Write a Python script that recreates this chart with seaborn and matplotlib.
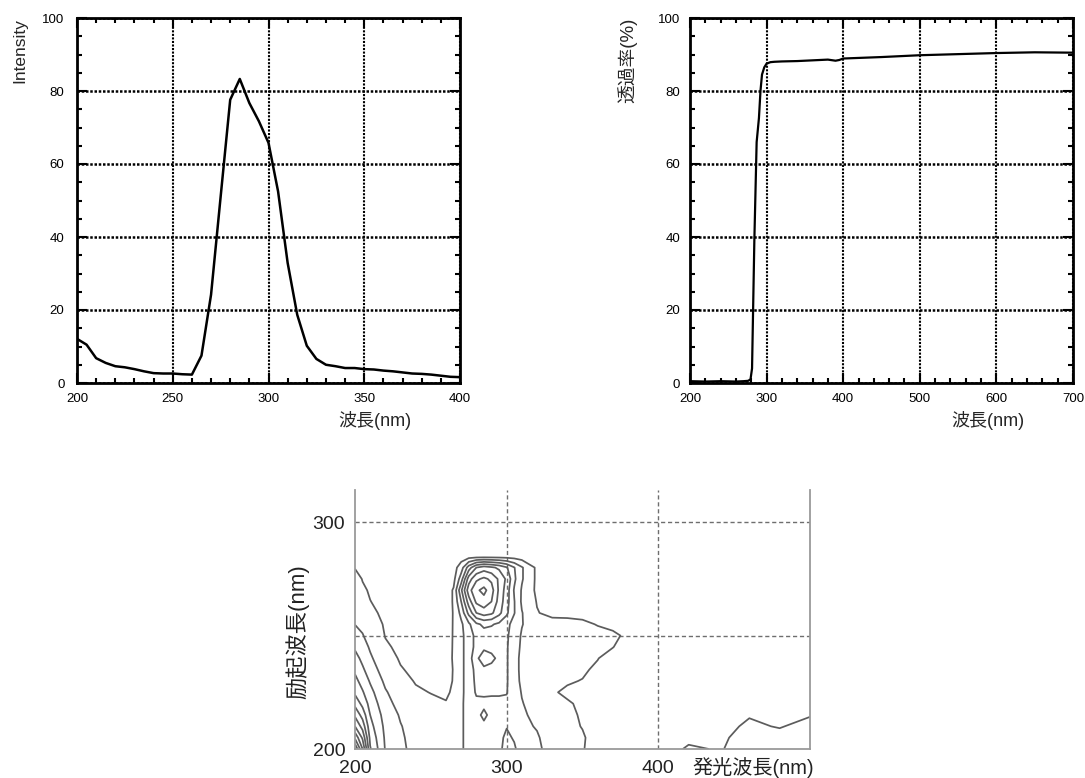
import numpy as np
import pandas as pd
import matplotlib
matplotlib.use("Agg")
import matplotlib.pyplot as plt
from matplotlib.ticker import MultipleLocator
import seaborn as sns

# ---------------------------------------------------------------- data
# Fluorescence emission spectrum
em_wavelength = [200, 205, 210, 215, 220, 225, 230, 235, 240, 245, 250, 255, 260,
                 265, 270, 275, 280, 285, 290, 295, 300, 305, 310, 315, 320, 325,
                 330, 335, 340, 345, 350, 355, 360, 365, 370, 375, 380, 385, 390,
                 395, 400]
em_intensity = [12.1, 10.5, 6.8, 5.5, 4.6, 4.3, 3.8, 3.2, 2.7, 2.6, 2.6, 2.4, 2.3,
                7.5, 24.2, 51.0, 77.6, 83.3, 76.7, 71.7, 65.8, 52.5, 32.9, 18.7, 10.2,
                6.6, 5.0, 4.6, 4.1, 4.1, 3.8, 3.7, 3.4, 3.2, 2.9, 2.6, 2.5, 2.3, 2.0,
                1.7, 1.6]

# Transmittance spectrum
tr_wavelength = [200, 220, 240, 260, 270, 276, 279, 281, 284, 287, 290, 292, 294,
                 297, 300, 305, 310, 320, 340, 360, 380, 390, 395, 400, 450, 500,
                 550, 600, 650, 700]
tr_percent = [0.5, 0.4, 0.5, 0.4, 0.5, 0.6, 1.0, 4.0, 39.0, 66.0, 72.6, 80.0, 84.5,
              86.5, 87.5, 87.9, 88.0, 88.1, 88.2, 88.4, 88.6, 88.3, 88.5, 88.9, 89.3,
              89.8, 90.1, 90.4, 90.6, 90.5]

# Excitation-emission map (rows: excitation, columns: emission)
eem_emission = [200, 205, 210, 220, 230, 240, 250, 260, 265, 270, 275, 280, 285, 290,
                295, 300, 305, 310, 320, 330, 340, 350, 360, 370, 380, 400, 420, 440,
                460, 480, 500]
eem_excitation = [200, 205, 210, 215, 220, 225, 230, 235, 240, 245, 250, 255, 260,
                  265, 270, 275, 280, 285, 290, 300, 315]
eem_intensity = [
    [12.0, 9.0, 5.1, 2.93, 2.1, 1.85, 1.55, 1.5, 1.6, 1.8, 2.5, 2.7, 2.7, 2.7, 2.75, 3.4, 3.15, 2.5, 2.35, 1.3, 1.2, 1.03, 0.8, 0.7, 0.7, 0.75, 1.06, 0.97, 1.15, 1.2, 1.25],
    [9.8, 7.8, 4.75, 2.85, 2.1, 1.75, 1.5, 1.4, 1.6, 1.8, 2.5, 2.7, 2.7, 2.7, 2.75, 3.2, 2.9, 2.4, 2.15, 1.3, 1.2, 1.05, 0.8, 0.7, 0.7, 0.7, 0.9, 0.95, 1.1, 1.1, 1.15],
    [8.0, 6.6, 4.35, 2.75, 2.05, 1.6, 1.4, 1.3, 1.55, 1.8, 2.5, 2.75, 2.85, 2.75, 2.75, 2.95, 2.6, 2.3, 1.9, 1.25, 1.12, 0.98, 0.75, 0.65, 0.65, 0.65, 0.8, 0.9, 1.05, 0.98, 1.1],
    [6.8, 5.6, 4.0, 2.6, 1.9, 1.45, 1.3, 1.15, 1.5, 1.8, 2.5, 2.8, 3.15, 2.8, 2.75, 2.8, 2.5, 2.15, 1.75, 1.2, 1.1, 0.95, 0.7, 0.6, 0.6, 0.6, 0.7, 0.85, 0.98, 0.95, 0.98],
    [5.7, 4.7, 3.65, 2.35, 1.65, 1.3, 1.15, 1.02, 1.4, 1.8, 2.5, 2.8, 2.85, 2.8, 2.8, 2.8, 2.5, 2.05, 1.6, 1.15, 1.05, 0.92, 0.7, 0.6, 0.55, 0.55, 0.5, 0.5, 0.55, 0.55, 0.55],
    [4.8, 4.1, 3.3, 2.1, 1.45, 1.1, 0.98, 0.95, 1.05, 1.75, 2.5, 3.1, 3.1, 3.1, 3.1, 3.05, 2.4, 1.95, 1.25, 1.05, 0.92, 0.85, 0.7, 0.6, 0.55, 0.5, 0.5, 0.5, 0.55, 0.55, 0.55],
    [4.3, 3.6, 2.9, 1.8, 1.25, 0.95, 0.85, 0.9, 1.02, 1.75, 2.5, 3.2, 3.3, 3.3, 3.2, 3.1, 2.3, 1.85, 1.3, 1.15, 1.05, 0.98, 0.75, 0.6, 0.55, 0.5, 0.5, 0.5, 0.55, 0.55, 0.55],
    [3.8, 3.15, 2.5, 1.5, 1.05, 0.85, 0.75, 0.85, 1.02, 1.75, 2.5, 3.3, 3.8, 3.6, 3.3, 3.1, 2.3, 1.8, 1.4, 1.25, 1.12, 1.08, 0.9, 0.65, 0.55, 0.5, 0.5, 0.5, 0.55, 0.55, 0.55],
    [3.35, 2.75, 2.15, 1.3, 0.93, 0.78, 0.65, 0.8, 1.05, 1.75, 2.5, 3.8, 4.5, 4.3, 3.7, 3.1, 2.3, 1.8, 1.5, 1.35, 1.2, 1.1, 1.02, 0.75, 0.6, 0.5, 0.5, 0.5, 0.55, 0.55, 0.55],
    [2.85, 2.4, 1.88, 1.1, 0.85, 0.7, 0.6, 0.75, 1.05, 1.75, 2.5, 3.3, 3.8, 3.6, 3.3, 3.1, 2.4, 1.85, 1.5, 1.4, 1.3, 1.2, 1.1, 1.02, 0.7, 0.5, 0.5, 0.5, 0.55, 0.55, 0.55],
    [2.4, 2.05, 1.65, 0.97, 0.78, 0.6, 0.55, 0.7, 1.05, 1.75, 2.5, 3.3, 3.6, 3.5, 3.4, 3.15, 2.5, 1.9, 1.6, 1.45, 1.4, 1.35, 1.3, 1.15, 0.85, 0.5, 0.5, 0.5, 0.55, 0.55, 0.55],
    [1.98, 1.8, 1.45, 0.9, 0.7, 0.55, 0.5, 0.65, 1.05, 1.8, 2.8, 3.8, 4.2, 4.1, 3.8, 3.3, 2.6, 2.05, 1.4, 1.35, 1.3, 1.2, 0.95, 0.8, 0.6, 0.45, 0.5, 0.5, 0.55, 0.55, 0.55],
    [1.95, 1.6, 1.2, 0.8, 0.6, 0.5, 0.45, 0.6, 1.05, 2.3, 4.3, 6.0, 6.5, 6.2, 5.3, 4.2, 3.05, 2.05, 1.05, 0.75, 0.75, 0.7, 0.6, 0.55, 0.5, 0.4, 0.45, 0.45, 0.5, 0.5, 0.5],
    [1.85, 1.4, 1.02, 0.7, 0.5, 0.45, 0.42, 0.5, 1.1, 3.0, 5.5, 7.2, 7.6, 7.0, 5.6, 4.4, 3.05, 1.85, 0.95, 0.6, 0.55, 0.5, 0.5, 0.5, 0.45, 0.4, 0.45, 0.45, 0.5, 0.5, 0.5],
    [1.7, 1.15, 0.9, 0.6, 0.45, 0.4, 0.4, 0.5, 1.1, 3.8, 6.6, 7.8, 8.3, 7.4, 5.8, 4.5, 2.9, 1.9, 0.8, 0.5, 0.45, 0.45, 0.45, 0.45, 0.4, 0.4, 0.45, 0.45, 0.5, 0.5, 0.5],
    [1.4, 0.95, 0.75, 0.5, 0.4, 0.35, 0.35, 0.4, 0.7, 2.5, 5.5, 6.8, 7.2, 6.8, 5.8, 4.8, 3.2, 2.1, 0.8, 0.4, 0.4, 0.4, 0.4, 0.4, 0.4, 0.4, 0.4, 0.4, 0.45, 0.45, 0.45],
    [0.95, 0.75, 0.6, 0.45, 0.35, 0.35, 0.35, 0.4, 0.6, 1.5, 3.5, 5.0, 5.5, 5.2, 4.8, 4.1, 3.05, 2.1, 0.8, 0.5, 0.4, 0.4, 0.4, 0.4, 0.4, 0.4, 0.4, 0.4, 0.4, 0.4, 0.4],
    [0.8, 0.6, 0.5, 0.4, 0.35, 0.3, 0.3, 0.3, 0.4, 0.5, 0.5, 0.5, 0.5, 0.5, 0.5, 0.5, 0.5, 0.45, 0.4, 0.35, 0.3, 0.3, 0.3, 0.3, 0.3, 0.35, 0.35, 0.35, 0.35, 0.35, 0.35],
    [0.6, 0.5, 0.45, 0.35, 0.3, 0.3, 0.3, 0.3, 0.35, 0.45, 0.5, 0.5, 0.55, 0.55, 0.5, 0.5, 0.5, 0.45, 0.4, 0.35, 0.3, 0.3, 0.3, 0.3, 0.3, 0.3, 0.3, 0.3, 0.3, 0.3, 0.3],
    [0.4, 0.35, 0.35, 0.35, 0.35, 0.35, 0.35, 0.35, 0.35, 0.35, 0.35, 0.35, 0.35, 0.35, 0.35, 0.35, 0.35, 0.35, 0.35, 0.35, 0.35, 0.35, 0.35, 0.35, 0.35, 0.35, 0.35, 0.35, 0.35, 0.35, 0.35],
    [0.3] * 31,
]
eem_levels = [1, 2, 3, 4, 5, 6, 7, 8, 9, 10, 11]

# ---------------------------------------------------------------- style
sns.set_theme(style="ticks")
plt.rcParams["font.family"] = ["Liberation Sans", "Noto Sans CJK JP"]
plt.rcParams["axes.linewidth"] = 2.0

W, H = 1085, 778
fig = plt.figure(figsize=(W / 100, H / 100), dpi=100)
fig.patch.set_facecolor("white")


def px_axes(left, top, right, bottom):
    return fig.add_axes([left / W, 1 - bottom / H, (right - left) / W, (bottom - top) / H])


def style_spectrum(ax, xmaj, xmin, ypad):
    ax.set_ylim(0, 100)
    ax.xaxis.set_major_locator(MultipleLocator(xmaj))
    ax.xaxis.set_minor_locator(MultipleLocator(xmin))
    ax.yaxis.set_major_locator(MultipleLocator(20))
    ax.yaxis.set_minor_locator(MultipleLocator(5))
    ax.tick_params(which="both", direction="in", top=True, right=True,
                   color="black", width=1.5, labelsize=9.5, labelcolor="black")
    ax.tick_params(which="major", length=7)
    ax.tick_params(which="minor", length=3.5)
    ax.tick_params(axis="x", pad=7)
    ax.tick_params(axis="y", pad=ypad)
    ax.grid(False)
    ax.xaxis.grid(True, which="major", color="black", linestyle=(0, (1.0, 0.7)), linewidth=1.5)
    ax.yaxis.grid(True, which="major", color="black", linestyle=(0, (1.0, 0.7)), linewidth=1.8)
    ax.set_axisbelow(True)
    for s in ax.spines.values():
        s.set_color("black")
        s.set_linewidth(2.0)
    ax.set_xlabel("")
    ax.set_ylabel("")


# ---------------------------------------------------------------- emission spectrum
ax1 = px_axes(77, 18, 460, 383)
sns.lineplot(x=em_wavelength, y=em_intensity, ax=ax1, color="black", linewidth=1.8)
ax1.set_xlim(200, 400)
style_spectrum(ax1, 50, 10, 9)
ax1.text(0.777, -0.104, "波長(nm)", transform=ax1.transAxes, ha="center", va="center",
         fontsize=13)
ax1.text(-0.149, 0.912, "Intensity", transform=ax1.transAxes, ha="center", va="center",
         rotation=90, fontsize=12.5)

# ---------------------------------------------------------------- transmittance
ax2 = px_axes(690, 18, 1073, 383)
sns.lineplot(x=tr_wavelength, y=tr_percent, ax=ax2, color="black", linewidth=1.6)
ax2.set_xlim(200, 700)
style_spectrum(ax2, 100, 20, 7)
ax2.text(0.777, -0.104, "波長(nm)", transform=ax2.transAxes, ha="center", va="center",
         fontsize=13)
ax2.text(-0.164, 0.885, "透過率(%)", transform=ax2.transAxes, ha="center", va="center",
         rotation=90, fontsize=13.5)

# ---------------------------------------------------------------- excitation-emission map
ax3 = px_axes(355, 490, 810, 749)
ax3.set_facecolor("white")
Z = np.array(eem_intensity)
ax3.contour(eem_emission, eem_excitation, Z, levels=eem_levels,
            colors="#5c5c5c", linewidths=1.25)
ax3.set_xlim(200, 500)
ax3.set_ylim(200, 314.2)
ax3.set_xticks([200, 300, 400])
ax3.set_yticks([200, 300])
ax3.tick_params(length=0, labelsize=14, labelcolor="#222222")
ax3.tick_params(axis="x", pad=8)
ax3.tick_params(axis="y", pad=7)
for x in [300, 400]:
    ax3.axvline(x, color="#6e6e6e", linestyle=(0, (3, 2)), linewidth=1.0, zorder=0)
for y in [250, 300]:
    ax3.axhline(y, color="#6e6e6e", linestyle=(0, (3, 2)), linewidth=1.0, zorder=0)
ax3.spines["top"].set_visible(False)
for side in ["left", "right", "bottom"]:
    ax3.spines[side].set_color("#9a9a9a")
    ax3.spines[side].set_linewidth(1.3)
ax3.text(0.875, -0.07, "発光波長(nm)", transform=ax3.transAxes, ha="center",
         va="center", fontsize=14.5, color="#222222")
ax3.text(-0.127, 0.455, "励起波長(nm)", transform=ax3.transAxes, ha="center",
         va="center", rotation=90, fontsize=16, color="#222222")

fig.savefig("out.png", dpi=100, facecolor="white")
